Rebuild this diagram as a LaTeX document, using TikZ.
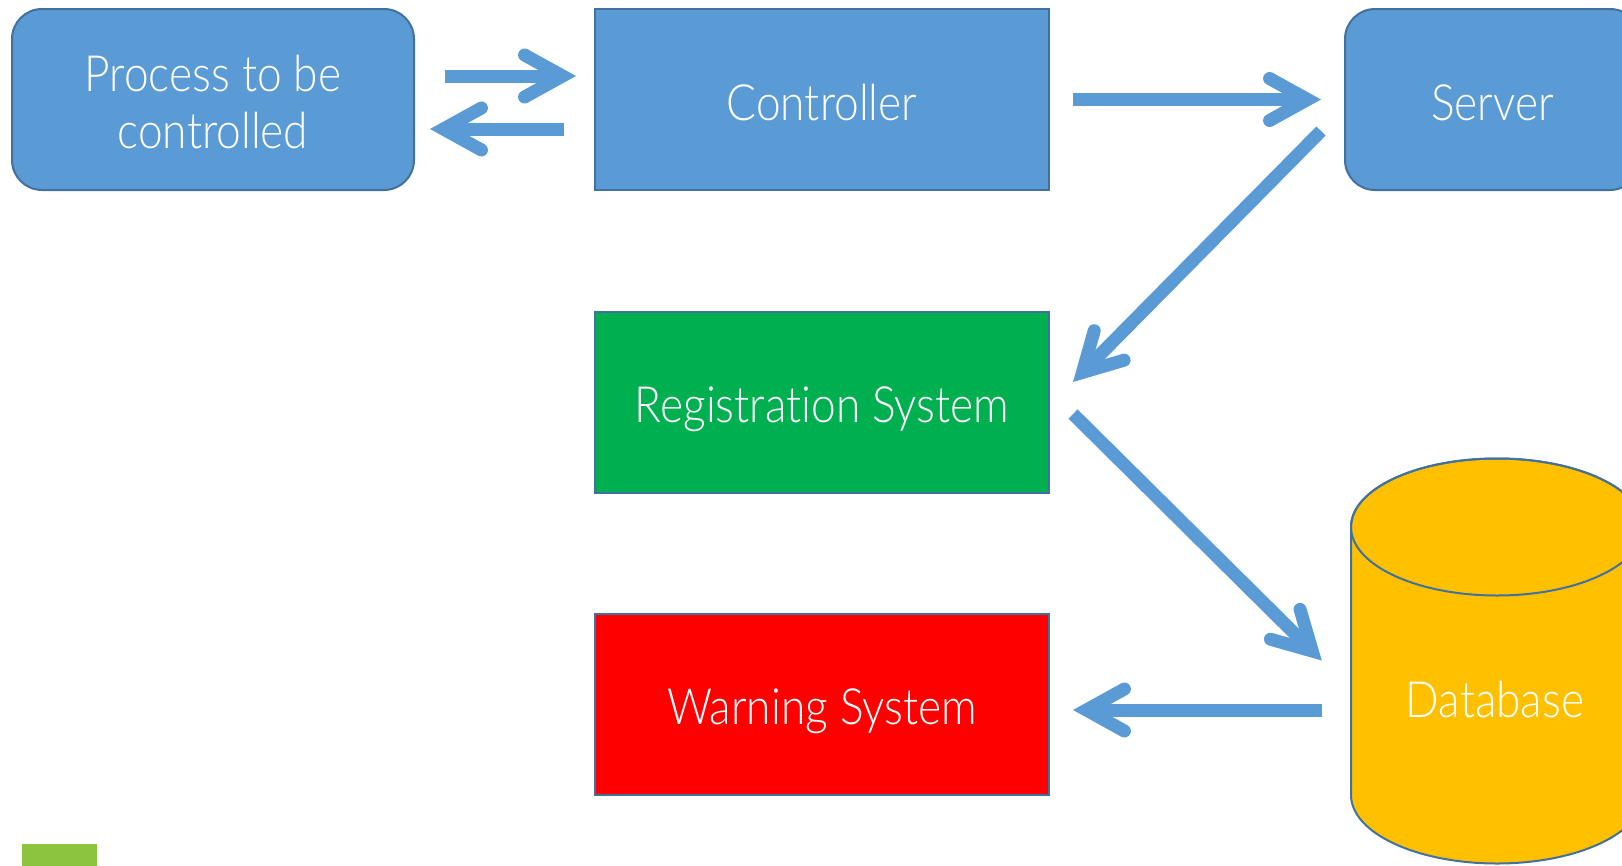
\documentclass[tikz,border=0pt]{standalone}
\usepackage{fontspec}
\setmainfont{Lato}[UprightFont=* Light, Ligatures=NoCommon, FakeStretch=0.885]
\usetikzlibrary{arrows.meta,calc}
\definecolor{boxblue}{HTML}{5B9BD5}
\definecolor{edgeblue}{HTML}{41719C}
\definecolor{flowblue}{HTML}{5B9BD5}
\definecolor{regreen}{HTML}{00B050}
\definecolor{warnred}{HTML}{FF0000}
\definecolor{dbgold}{HTML}{FFC000}
\definecolor{leaf}{HTML}{8CC43F}

\begin{document}
\begin{tikzpicture}[x=1pt,y=-1pt,
  label font/.style={font=\fontsize{50}{57}\selectfont, text height=41pt, text depth=0pt},
  box/.style={draw=edgeblue, line width=2pt, minimum width=454pt, minimum height=181pt,
    inner sep=0pt, text=white, label font, align=center},
  roundbox/.style={box, rounded corners=30pt},
  flow/.style={draw=flowblue, line width=13pt,
    -{Straight Barb[length=38pt,width=42pt,line cap=round,line join=miter]}},
]
\useasboundingbox (0,0) rectangle (1622,865);
\clip (0,0) rectangle (1622,865);

% boxes
\node[roundbox, fill=boxblue, minimum width=402pt, text height=98pt] (proc) at (213,99.5) {Process to be\\controlled};
\node[box, fill=boxblue] (ctrl) at (822,99.5) {Controller};
\node[roundbox, fill=boxblue, minimum width=295pt] (server) at (1492.5,99.5) {Server};
\node[box, fill=regreen] (reg) at (822,402) {Registration System};
\node[box, fill=warnred] (warn) at (822,704) {Warning System};

% database cylinder
\filldraw[fill=dbgold, draw=edgeblue, line width=2pt]
  (1351,527) -- (1351,795) arc[start angle=180, end angle=0, x radius=146, y radius=68.5]
  -- (1643,527) arc[start angle=0, end angle=-180, x radius=146, y radius=68.5] -- cycle;
\draw[edgeblue, line width=2pt] (1497,527) ellipse[x radius=146, y radius=68.5];
\node[minimum width=292pt, minimum height=405pt, inner sep=0pt] (db) at (1497,660.5) {};
\node[text=white, label font, inner sep=0pt] (dblabel) at (1495,696.5) {Database};

% flows
\draw[flow] ($(proc.east)+(30,-23.5)$) -- ($(ctrl.west)+(-18,-23.5)$);
\draw[flow] ($(ctrl.west)+(-30,29.5)$) -- ($(proc.east)+(15,29.5)$);
\draw[flow] ($(ctrl.east)+(23,0)$) -- ($(server.west)+(-23,0)$);
\draw[flow] ($(server.west)+(-23,31.5)$) -- ($(reg.east)+(23,-20)$);
\draw[flow] ($(reg.east)+(23,12)$) -- ($(db.west)+(-29,0)$);
\draw[flow] ($(db.west)+(-29,49.5)$) -- ($(warn.east)+(23,6)$);

% corner accent
\fill[leaf] (22,844) rectangle (97,866);
\end{tikzpicture}
\end{document}
